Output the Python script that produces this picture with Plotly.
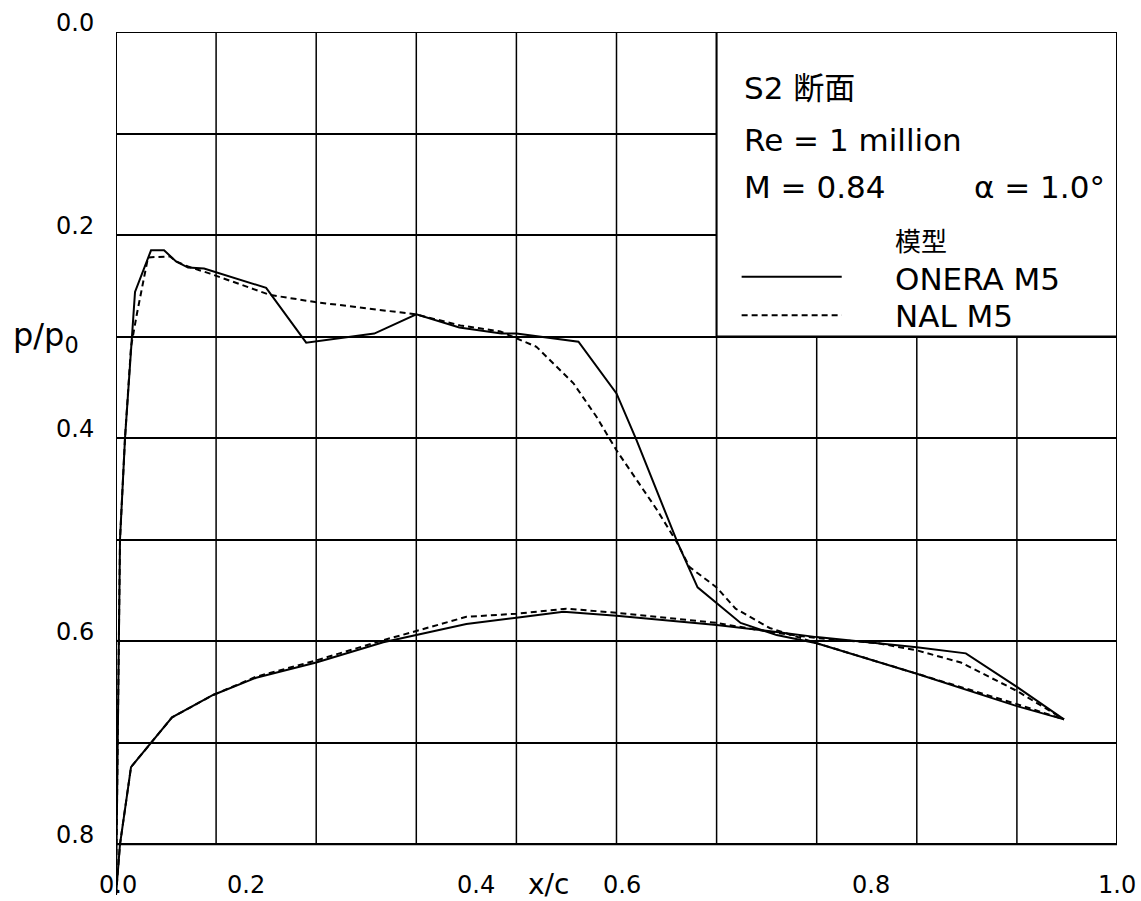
import plotly.graph_objects as go

# ---------------- data (x/c , p/p0) ----------------
onera_upper_x = [0.0, 0.004, 0.009, 0.016, 0.019, 0.035, 0.048, 0.060, 0.072, 0.088, 0.150,
                 0.190, 0.258, 0.300, 0.343, 0.385, 0.400, 0.462, 0.500, 0.520, 0.561,
                 0.581, 0.601, 0.624, 0.660, 0.700, 0.800, 0.850, 0.900, 0.947]
onera_upper_p = [0.850, 0.500, 0.400, 0.298, 0.256, 0.215, 0.215, 0.226, 0.232, 0.233, 0.252,
                 0.306, 0.297, 0.278, 0.291, 0.297, 0.297, 0.305, 0.356, 0.402, 0.503,
                 0.547, 0.563, 0.582, 0.594, 0.602, 0.632, 0.648, 0.664, 0.677]

onera_lower_x = [0.0, 0.004, 0.015, 0.056, 0.097, 0.140, 0.200, 0.267, 0.300, 0.350, 0.400,
                 0.447, 0.500, 0.600, 0.660, 0.700, 0.761, 0.800, 0.849, 0.900, 0.947]
onera_lower_p = [0.850, 0.800, 0.724, 0.675, 0.653, 0.636, 0.621, 0.601, 0.594, 0.583, 0.577,
                 0.571, 0.575, 0.584, 0.591, 0.596, 0.602, 0.606, 0.612, 0.645, 0.677]

nal_upper_x = [0.0, 0.004, 0.009, 0.015, 0.021, 0.032, 0.054, 0.060, 0.072, 0.094, 0.154,
               0.199, 0.299, 0.344, 0.384, 0.399, 0.420, 0.457, 0.480, 0.500, 0.520,
               0.540, 0.560, 0.573, 0.600, 0.619, 0.653, 0.683, 0.700, 0.800, 0.900, 0.947]
nal_upper_p = [0.850, 0.500, 0.400, 0.310, 0.277, 0.222, 0.221, 0.226, 0.231, 0.238, 0.259,
               0.266, 0.278, 0.289, 0.295, 0.301, 0.310, 0.346, 0.379, 0.412, 0.441,
               0.470, 0.502, 0.527, 0.547, 0.568, 0.587, 0.597, 0.602, 0.632, 0.662, 0.677]

nal_lower_x = [0.0, 0.004, 0.015, 0.056, 0.097, 0.140, 0.200, 0.267, 0.300, 0.350, 0.400,
               0.450, 0.500, 0.600, 0.660, 0.700, 0.761, 0.800, 0.844, 0.900, 0.947]
nal_lower_p = [0.850, 0.800, 0.724, 0.675, 0.653, 0.635, 0.619, 0.599, 0.590, 0.576, 0.573,
               0.568, 0.572, 0.582, 0.592, 0.597, 0.602, 0.609, 0.621, 0.649, 0.677]

y_tick_vals = [0.0, 0.2, 0.4, 0.6, 0.8]
y_tick_text = ["0.0", "0.2", "0.4", "0.6", "0.8"]
x_label_pos = [0.002, 0.130, 0.360, 0.505, 0.754, 1.0]
x_label_text = ["0.0", "0.2", "0.4", "0.6", "0.8", "1.0"]
grid_y = [0.0, 0.1, 0.2, 0.3, 0.4, 0.5, 0.6, 0.7, 0.8]
grid_x = [0.1, 0.2, 0.3, 0.4, 0.5, 0.6, 0.7, 0.8, 0.9]

FONT = "DejaVu Sans, Noto Sans CJK JP, sans-serif"
SOLID = dict(color="black", width=2)
DASHED = dict(color="black", width=2, dash="6px,4px")

fig = go.Figure()
fig.add_trace(go.Scatter(x=onera_upper_x, y=onera_upper_p, mode="lines", line=SOLID, name="ONERA M5"))
fig.add_trace(go.Scatter(x=onera_lower_x, y=onera_lower_p, mode="lines", line=SOLID, name="ONERA M5"))
fig.add_trace(go.Scatter(x=nal_upper_x, y=nal_upper_p, mode="lines", line=DASHED, name="NAL M5"))
fig.add_trace(go.Scatter(x=nal_lower_x, y=nal_lower_p, mode="lines", line=DASHED, name="NAL M5"))

fig.update_layout(
    width=1141, height=901,
    margin=dict(l=116, r=24, t=32, b=6),
    paper_bgcolor="white", plot_bgcolor="white",
    showlegend=False,
    font=dict(family=FONT, color="black"),
    xaxis=dict(range=[0, 1], showgrid=False, showticklabels=False, zeroline=False,
               showline=False, ticks=""),
    yaxis=dict(range=[0.85, 0], tickmode="array", tickvals=grid_y, showgrid=True,
               gridcolor="black", gridwidth=1.5, showticklabels=False, zeroline=False,
               showline=False, ticks=""),
)

# vertical grid lines, stopping at the frame bottom (0.8)
for gx in grid_x:
    fig.add_shape(type="line", x0=gx, x1=gx, y0=0.0, y1=0.8,
                  line=dict(color="black", width=1.5), layer="below")
# legend / info box (covers grid)
fig.add_shape(type="rect", x0=0.6, x1=1.0, y0=0.0, y1=0.3, fillcolor="white",
              line=dict(color="black", width=2), layer="between")
# frame
fig.add_shape(type="rect", x0=0, x1=1, y0=0, y1=0.8, line=dict(color="black", width=2), layer="above")
# legend samples
fig.add_shape(type="line", x0=0.625, x1=0.725, y0=0.241, y1=0.241, line=SOLID, layer="above")
fig.add_shape(type="line", x0=0.625, x1=0.725, y0=0.279, y1=0.279, line=DASHED, layer="above")

def txt(x, y, s, size, anchor="left", **kw):
    fig.add_annotation(x=x, y=y, text=s, showarrow=False, xanchor=anchor, yanchor="middle",
                       font=dict(size=size, family=FONT, color="black"), **kw)

txt(0.625, 0.055, "S2 断面", 31)
txt(0.625, 0.106, "Re = 1 million", 31)
txt(0.625, 0.153, "M = 0.84", 31)
txt(0.855, 0.153, "α = 1.0°", 31)
txt(0.776, 0.207, "模型", 26)
txt(0.776, 0.243, "ONERA M5", 31)
txt(0.776, 0.280, "NAL M5", 31)

# x tick labels and axis title
for xv, t in zip(x_label_pos, x_label_text):
    txt(xv, 0.840, t, 24, anchor="center")
txt(0.432, 0.840, "x/c", 28, anchor="center")

# y tick labels
for yv, t in zip(y_tick_vals, y_tick_text):
    fig.add_annotation(xref="paper", x=0, xshift=-41, y=yv, yshift=9, text=t, showarrow=False,
                       xanchor="center", yanchor="middle",
                       font=dict(size=24, family=FONT, color="black"))
fig.add_annotation(xref="paper", x=0, xshift=-70, y=0.30, text="p/p<sub>0</sub>", showarrow=False,
                   xanchor="center", yanchor="middle", font=dict(size=32, family=FONT, color="black"))

fig.write_html("out.html")
